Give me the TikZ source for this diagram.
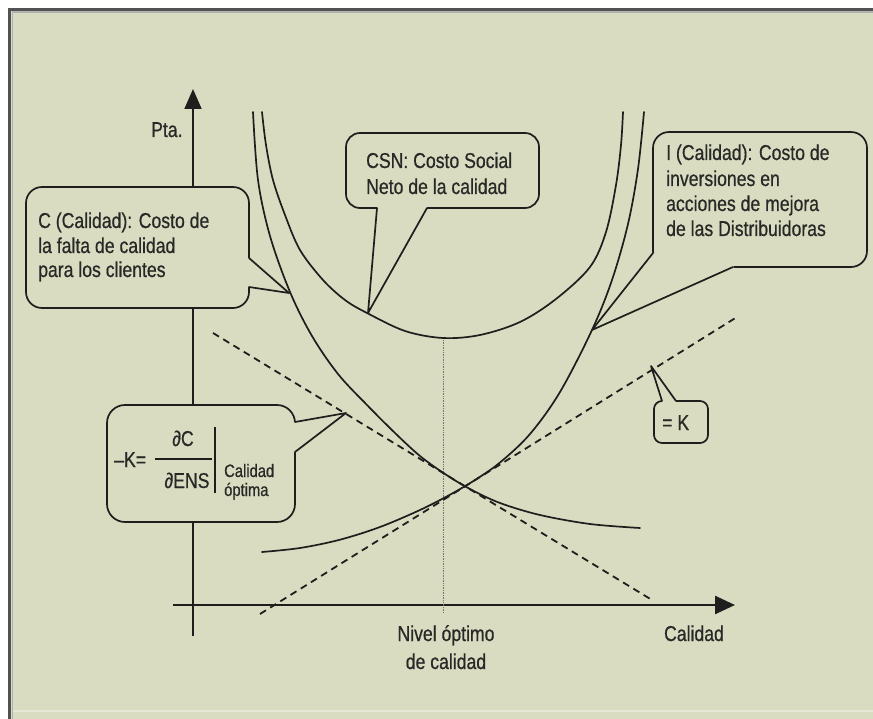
\documentclass[tikz,border=0pt]{standalone}
\usepackage{fontspec}
\setmainfont{Liberation Sans}[FakeStretch=0.82, FakeBold=0.6]
\usetikzlibrary{arrows.meta}
\definecolor{bgc}{RGB}{217,220,193}
\definecolor{ink}{RGB}{30,30,28}
\definecolor{txt}{RGB}{40,40,38}
\begin{document}
\begin{tikzpicture}[x=1pt,y=-1pt,
  curve/.style={ink, line width=1.7pt, line cap=round},
  tangent/.style={ink, line width=1.8pt, dash pattern=on 7pt off 5pt},
  axis/.style={ink, line width=1.8pt},
  cbox/.style={draw=ink, fill=bgc, line width=1.7pt, inner sep=0pt},
  ptr/.style={ink, line width=1.7pt, line join=round, line cap=round},
  lbl/.style={text=txt, inner sep=0pt, font=\fontsize{21.5}{25}\selectfont},
  sublbl/.style={text=txt, inner sep=0pt, font=\fontsize{18}{20}\selectfont},
]
\useasboundingbox (0,0) rectangle (873,719);
% background and frame
\fill[white] (0,0) rectangle (873,719);
\fill[bgc] (10,10) rectangle (873,719);
\draw[line width=1.2pt, white!35!bgc] (12,711) -- (873,711);
\draw[line width=1.2pt, black!30] (12.5,719) -- (12.5,12) -- (873,12);
\draw[line width=2.5pt, black!68] (9.5,719) -- (9.5,9.5) -- (873,9.5);

% axes
\coordinate (yb) at (193,636);
\coordinate (yt) at (193,89);
\coordinate (xl) at (173,605);
\coordinate (xr) at (735,605);
\draw[axis, -{Triangle[length=20pt,width=17pt]}] (yb) -- (yt);
\draw[axis, line width=2.6pt, -{Triangle[length=20pt,width=18pt]}] (xl) -- (xr);

% optimum level
\coordinate (opttop) at (443,340);
\coordinate (optbot) at (443,613);
\draw[black!55, line width=0.7pt, densely dotted] (opttop) -- (optbot);

% tangent lines
\coordinate (d1a) at (213,333);
\coordinate (d1b) at (652,600);
\coordinate (d2a) at (260,614);
\coordinate (d2b) at (737,317);
\draw[tangent] (d1a) -- (d1b);
\draw[tangent] (d2a) -- (d2b);

% C (Calidad)
\draw[curve] plot[smooth, tension=0.55] coordinates {(253,112) (258,180) (270,236) (290,292) (312,336) (338,374) (367,405) (395,433) (420,456) (445,474) (470,489) (500,503) (540,515) (590,524) (640,528)};
% I (Calidad)
\draw[curve] plot[smooth, tension=0.55] coordinates {(262,552) (300,548) (340,539.7) (380,527) (420,510) (450,494.7) (475,480) (500,462.5) (530,434) (560,392) (592,330) (612,280) (628,224) (638,169) (644,112)};
% CSN
\draw[curve] plot[smooth, tension=0.55] coordinates {(262,112) (266,145) (273,180) (285,215) (300,250) (323,280) (345,300) (367,313) (405,331) (443,338) (480,335) (520,322) (556,299) (590,267) (606,232) (616,185) (621,145) (623,112)};

% callout: C
\node[cbox, rounded corners=16pt, minimum width=223pt, minimum height=121pt] (cbox) at (137.5,247.5) {};
\coordinate (ctip) at (289,293);
\fill[bgc] (245,258) -- (249,258) -- (ctip) -- (249,287) -- (245,287) -- cycle;
\draw[ptr] (249,258) -- (ctip) -- (249,287);
\node[lbl, anchor=base west] (c1) at (38,228) {C (Calidad): Costo de};
\node[lbl, anchor=base west] (c2) at (38,253) {la falta de calidad};
\node[lbl, anchor=base west] (c3) at (38,277) {para los clientes};

% callout: CSN
\node[cbox, rounded corners=14pt, minimum width=193pt, minimum height=75pt] (sbox) at (442.5,170.5) {};
\coordinate (stip) at (368,313);
\fill[bgc] (377,204) -- (377,208) -- (stip) -- (427,208) -- (427,204) -- cycle;
\draw[ptr] (377,208) -- (stip) -- (427,208);
\node[lbl, anchor=base west] (s1) at (366,168) {CSN: Costo Social};
\node[lbl, anchor=base west] (s2) at (366,194) {Neto de la calidad};

% callout: I
\node[cbox, rounded corners=16pt, minimum width=214pt, minimum height=135pt] (ibox) at (760,199.5) {};
\coordinate (itip) at (592,330);
\fill[bgc] (651,253) -- (itip) -- (733.5,268.6) -- (733.5,263) -- cycle;
\draw[ptr] (653,253) -- (itip) -- (733,267);
\node[lbl, anchor=base west] (i1) at (666,160) {I (Calidad): Costo de};
\node[lbl, anchor=base west] (i2) at (666,186) {inversiones en};
\node[lbl, anchor=base west] (i3) at (666,211) {acciones de mejora};
\node[lbl, anchor=base west] (i4) at (666,236) {de las Distribuidoras};

% callout: -K
\node[cbox, rounded corners=18pt, minimum width=188pt, minimum height=117pt] (kbox) at (201,463.5) {};
\coordinate (ktip) at (346,413);
\fill[bgc] (291,422) -- (295,422) -- (ktip) -- (295,452) -- (291,452) -- cycle;
\draw[ptr] (295,422) -- (ktip) -- (295,452);
\node[lbl, anchor=base west] (km) at (114,467) {–K=};
\node[lbl, anchor=base] (knum) at (183,446) {∂C};
\node[lbl, anchor=base] (kden) at (187,488) {∂ENS};
\coordinate (fl) at (155,459);
\coordinate (fr) at (212,459);
\draw[ink, line width=1.2pt] (fl) -- (fr);
\coordinate (vbt) at (215,427);
\coordinate (vbb) at (215,493);
\draw[ink, line width=1.6pt] (vbt) -- (vbb);
\node[sublbl, anchor=base west] (ks1) at (224,477) {Calidad};
\node[sublbl, anchor=base west] (ks2) at (224,496) {óptima};

% callout: =K
\node[cbox, rounded corners=8pt, minimum width=54pt, minimum height=42pt] (ebox) at (681,422) {};
\coordinate (etip) at (651,366);
\fill[bgc] (662,404) -- (662,401) -- (etip) -- (676,401) -- (676,404) -- cycle;
\draw[ptr] (662,401) -- (etip) -- (676,401);
\node[lbl, anchor=base west] (e1) at (662,430) {= K};

% axis labels
\node[lbl, anchor=base west] (pta) at (151,137) {Pta.};
\node[lbl, anchor=base] (niv1) at (446,641) {Nivel óptimo};
\node[lbl, anchor=base] (niv2) at (446,669) {de calidad};
\node[lbl, anchor=base] (cal) at (694,641) {Calidad};
\end{tikzpicture}
\end{document}
